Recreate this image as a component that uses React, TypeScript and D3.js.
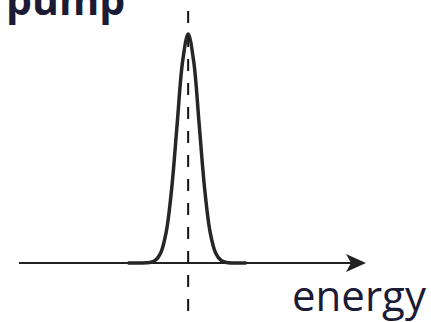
import React from "react";
import * as d3 from "d3";

const W = 431;
const H = 322;

// energy axis extent (units of pulse width, pump centred at 0)
const axisRange = [-15.4, 16.1];
// pump pulse profile
const pulseEnergy = [-5.5, -4.5, -3.5, -3, -2.5, -2, -1.5, -1, -0.5, 0, 0.5, 1, 1.5, 2, 2.5, 3, 3.5, 4.5, 5.3];
const pulseIntensity = [0, 0, 0.002, 0.011, 0.044, 0.135, 0.325, 0.607, 0.882, 1, 0.882, 0.607, 0.325, 0.135, 0.044, 0.011, 0.002, 0, 0];
const pumpCenter = [0];
const labels = { title: "pump", axis: "energy" };

export default function App() {
  const x = d3.scaleLinear().domain(axisRange).range([19, 365]);
  const y = d3.scaleLinear().domain([0, 1]).range([263, 34]);
  const line = d3
    .line<number>()
    .x((_, i) => x(pulseEnergy[i]))
    .y((d) => y(d))
    .curve(d3.curveCatmullRom.alpha(0.5));
  const pts = pulseIntensity;
  const x0 = x(axisRange[0]);
  const x1 = x(axisRange[1]);
  const yb = y(0);
  const cx = x(pumpCenter[0]);
  const arrow = `M${x1 + 1},${yb} L${x1 - 19},${yb - 9} L${x1 - 14},${yb} L${x1 - 19},${yb + 9} Z`;
  return (
    <svg
      width={W}
      height={H}
      style={{ position: "absolute", left: 0, top: 0, background: "#fff" }}
    >
      <line x1={x0} x2={x1 - 14} y1={yb} y2={yb} stroke="#222" strokeWidth={2} />
      <path d={arrow} fill="#222" />
      <line
        x1={cx}
        x2={cx}
        y1={11}
        y2={H}
        stroke="#111"
        strokeWidth={2}
        strokeDasharray="12 12"
      />
      <path d={line(pts) || ""} fill="none" stroke="#262626" strokeWidth={3.5} strokeLinejoin="round" />
      <text
        x={6}
        y={15}
        fontFamily="'Open Sans', sans-serif"
        fontWeight={700}
        fontSize={41}
        fill="#1b1b35"
      >
        {labels.title}
      </text>
      <text
        x={292}
        y={311}
        fontFamily="'Open Sans', sans-serif"
        fontSize={42}
        fill="#1b1b35"
      >
        {labels.axis}
      </text>
    </svg>
  );
}
